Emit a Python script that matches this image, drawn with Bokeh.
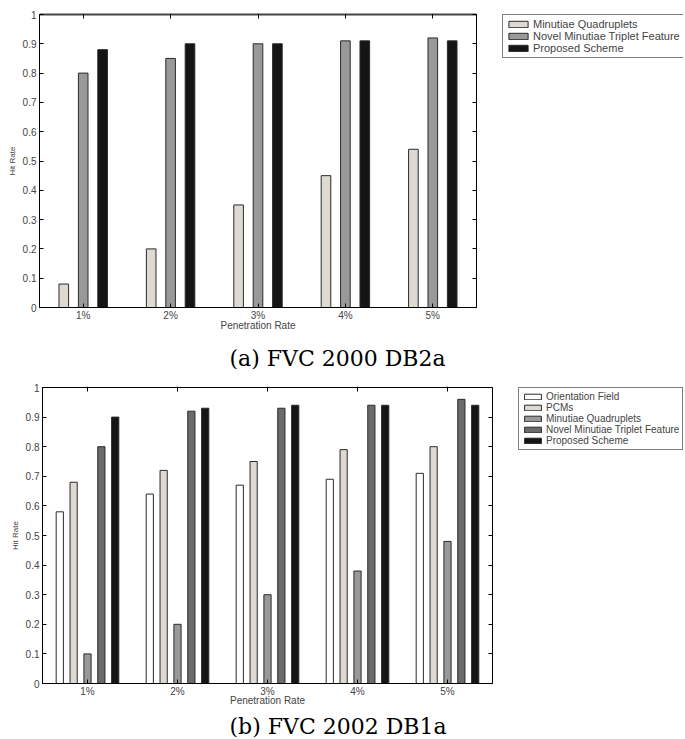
from bokeh.plotting import figure
from bokeh.models import (ColumnDataSource, FactorRange, Range1d, FixedTicker, LinearAxis,
                          CategoricalAxis, Legend, LegendItem, Title)
from bokeh.transform import dodge
from bokeh.layouts import column, row
from bokeh.embed import file_html
from bokeh.resources import INLINE

# ---- data ----
categories = ["1%", "2%", "3%", "4%", "5%"]
y_ticks = [0, 0.1, 0.2, 0.3, 0.4, 0.5, 0.6, 0.7, 0.8, 0.9, 1]

# (a) FVC 2000 DB2a
a_quadruplets = [0.08, 0.20, 0.35, 0.45, 0.54]
a_novel_triplet = [0.80, 0.85, 0.90, 0.91, 0.92]
a_proposed = [0.88, 0.90, 0.90, 0.91, 0.91]
a_names = ["Minutiae Quadruplets", "Novel Minutiae Triplet Feature", "Proposed Scheme"]

# (b) FVC 2002 DB1a
b_orientation = [0.58, 0.64, 0.67, 0.69, 0.71]
b_pcms = [0.68, 0.72, 0.75, 0.79, 0.80]
b_quadruplets = [0.10, 0.20, 0.30, 0.38, 0.48]
b_novel_triplet = [0.80, 0.92, 0.93, 0.94, 0.96]
b_proposed = [0.90, 0.93, 0.94, 0.94, 0.94]
b_names = ["Orientation Field", "PCMs", "Minutiae Quadruplets",
           "Novel Minutiae Triplet Feature", "Proposed Scheme"]

FONT = "Liberation Sans"


def make_panel(series, names, colors, offsets, bar_w, frame_w, frame_h, left, top,
               top_line_w, top_line_c, xlab_standoff, caption, cap_offset, cap_standoff,
               leg_left, leg_top, leg_fw, leg_fh, legend_glyph, legend_font):
    p = figure(x_range=FactorRange(*categories, range_padding=0), y_range=Range1d(0, 1),
               frame_width=frame_w, frame_height=frame_h, output_backend="svg",
               toolbar_location=None, tools="", min_border_left=left, min_border_right=6,
               min_border_top=top, min_border_bottom=0)
    data = {"cat": categories}
    for i, s in enumerate(series):
        data["s%d" % i] = s
    src = ColumnDataSource(data)

    # legend figure (sits to the right of the chart)
    lg = figure(frame_width=leg_fw, frame_height=leg_fh, output_backend="svg",
                toolbar_location=None, tools="", x_axis_location=None, y_axis_location=None,
                min_border_left=leg_left, min_border_top=leg_top, min_border_right=0,
                min_border_bottom=0, title=None)
    lg.outline_line_color = None
    lg.xgrid.grid_line_color = None
    lg.ygrid.grid_line_color = None
    lg.background_fill_color = "white"
    lg.border_fill_color = "white"

    items = []
    for i, (nm, col, off) in enumerate(zip(names, colors, offsets)):
        p.vbar(x=dodge("cat", off, range=p.x_range), top="s%d" % i, width=bar_w,
               source=src, fill_color=col, line_color="#2a2a2a", line_width=1)
        proxy = lg.vbar(x="cat", top="s%d" % i, width=bar_w, source=src, fill_color=col,
                        line_color="#2a2a2a", line_width=1, visible=False)
        items.append(LegendItem(label=nm, renderers=[proxy]))

    p.xgrid.grid_line_color = None
    p.ygrid.grid_line_color = None
    p.outline_line_color = "black"
    p.outline_line_width = 1
    p.background_fill_color = "white"
    p.border_fill_color = "white"

    ya = p.yaxis[0]
    ya.ticker = FixedTicker(ticks=y_ticks)
    ya.major_label_overrides = {0: "0", 1: "1"}
    ya.minor_tick_line_color = None
    ya.major_tick_in = 4
    ya.major_tick_out = 0
    ya.major_label_standoff = 3
    ya.major_label_text_font = FONT
    ya.major_label_text_font_size = "10px"
    ya.axis_label = "Hit Rate"
    ya.axis_label_text_font = FONT
    ya.axis_label_text_font_size = "8px"
    ya.axis_label_text_font_style = "normal"
    ya.axis_label_standoff = 3
    ya.axis_line_color = "black"

    xa = p.xaxis[0]
    xa.major_tick_in = 4
    xa.major_tick_out = 0
    xa.major_label_standoff = 2
    xa.major_label_text_font = FONT
    xa.major_label_text_font_size = "10px"
    xa.axis_label = "Penetration Rate"
    xa.axis_label_text_font = FONT
    xa.axis_label_text_font_size = "10px"
    xa.axis_label_text_font_style = "normal"
    xa.axis_label_standoff = xlab_standoff
    xa.axis_line_color = "black"

    ra = LinearAxis(ticker=FixedTicker(ticks=y_ticks), major_tick_in=4, major_tick_out=0,
                    major_label_overrides={t: "" for t in y_ticks},
                    major_label_text_font_size="1px", major_label_standoff=0,
                    minor_tick_line_color=None, axis_line_color="black")
    p.add_layout(ra, "right")
    ta = CategoricalAxis(major_tick_in=4, major_tick_out=0, major_label_standoff=0,
                         major_label_overrides={c: "" for c in categories},
                         major_label_text_font_size="1px",
                         axis_line_color=top_line_c, axis_line_width=top_line_w)
    p.add_layout(ta, "above")

    gw, gh = legend_glyph
    leg = Legend(items=items, location="top_left", margin=0,
                 glyph_width=gw, glyph_height=gh, label_height=gh,
                 label_text_font=FONT, label_text_font_size=legend_font,
                 label_standoff=3, padding=3, spacing=-1,
                 border_line_color="black", border_line_width=1,
                 background_fill_color="white", background_fill_alpha=1.0)
    lg.add_layout(leg)

    p.add_layout(Title(text=caption, align="left", offset=cap_offset, vertical_align="top",
                       standoff=cap_standoff, text_font="DejaVu Serif",
                       text_font_size="22px", text_font_style="normal",
                       text_color="black"), "below")
    return row(p, lg, spacing=0)


ra_ = make_panel([a_quadruplets, a_novel_triplet, a_proposed], a_names,
                 ["#dedad2", "#999999", "#151515"], [-0.222, 0.0, 0.222], 0.11,
                 437, 293, 39, 13, 2, "#444444", -4, "(a) FVC 2000 DB2a", 190, 24,
                 20, 14, 181, 60, (24, 8), "11px")

rb_ = make_panel([b_orientation, b_pcms, b_quadruplets, b_novel_triplet, b_proposed], b_names,
                 ["#ffffff", "#dedad2", "#999999", "#6b6b6b", "#151515"],
                 [-0.308, -0.154, 0.0, 0.154, 0.308], 0.08,
                 450, 296, 42, 4, 1, "black", -5, "(b) FVC 2002 DB1a", 187, 10,
                 20, 4, 165, 70, (21, 7), "10px")

layout = column(ra_, rb_, spacing=0)
open("out.html", "w").write(file_html(layout, INLINE))
